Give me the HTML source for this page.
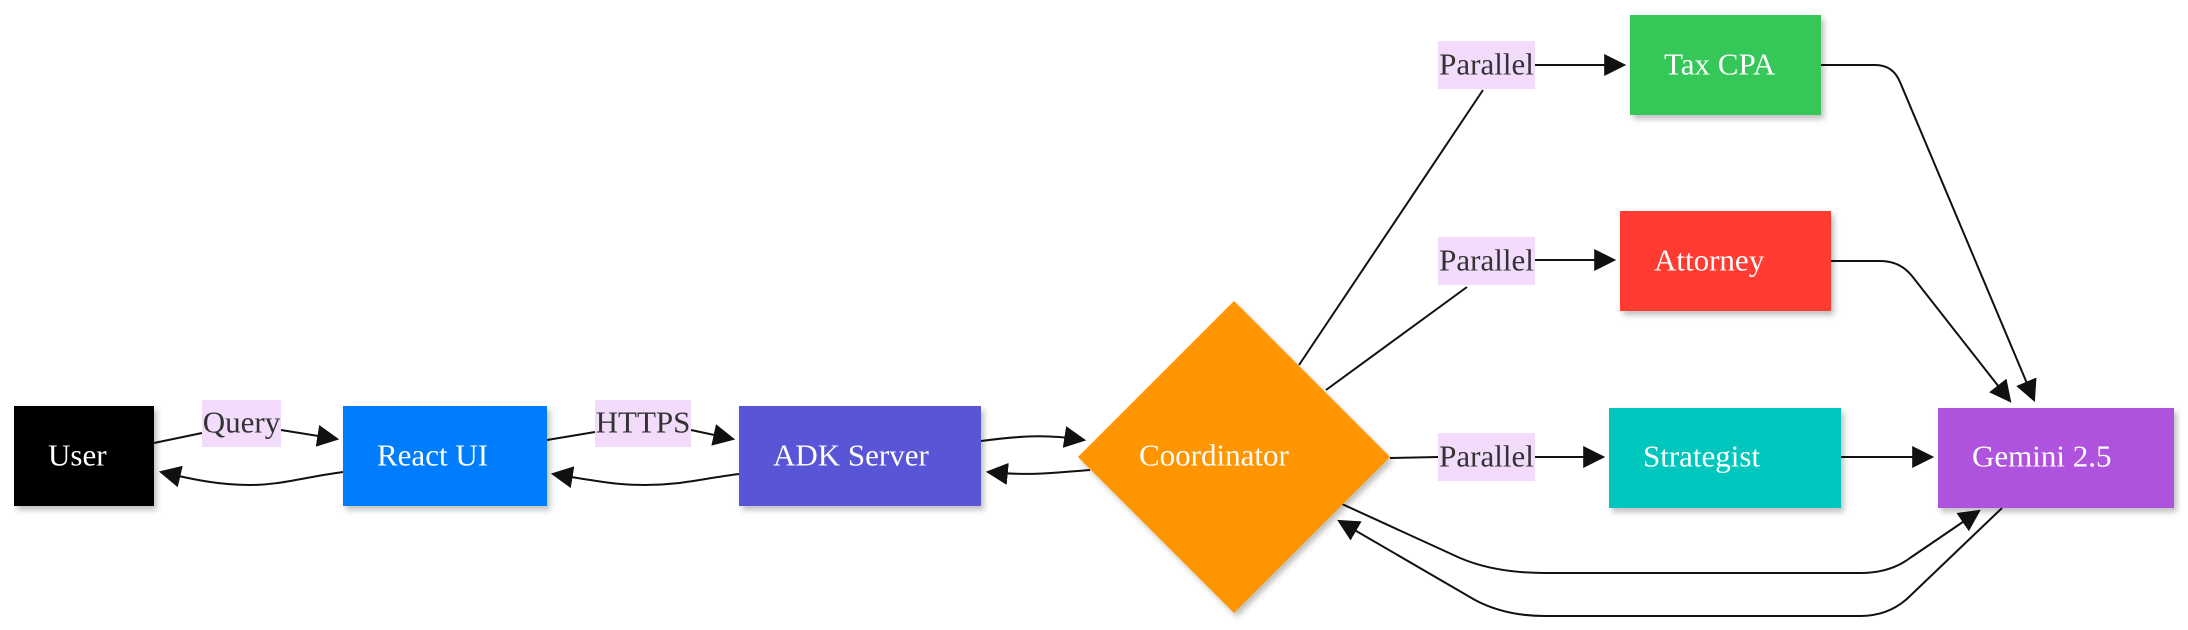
<!DOCTYPE html>
<html><head><meta charset="utf-8"><style>
html,body{margin:0;padding:0;background:#fff;width:2188px;height:630px;overflow:hidden}
svg text{font-family:"Liberation Serif",serif}
</style></head><body>
<svg width="2188" height="630" viewBox="0 0 2188 630" xmlns="http://www.w3.org/2000/svg">
<defs>
<marker id="a" viewBox="0 0 10 10" refX="9" refY="5" markerWidth="10" markerHeight="10" markerUnits="userSpaceOnUse" orient="auto">
<path d="M0,0 L10,5 L0,10 z" fill="#111"/></marker>
<marker id="b" viewBox="0 0 10 10" refX="9" refY="5" markerWidth="22" markerHeight="22" markerUnits="userSpaceOnUse" orient="auto">
<path d="M0,0 L10,5 L0,10 z" fill="#111"/></marker>
<filter id="s" x="-10%" y="-10%" width="130%" height="130%"><feDropShadow dx="3" dy="4" stdDeviation="3" flood-color="#000" flood-opacity="0.25"/></filter>
</defs>
<g fill="none" stroke="#111" stroke-width="2">
<path d="M154,443 L202,433"/><path d="M281,430 L337,439" marker-end="url(#b)"/>
<path d="M343,472 C300,478 280,485 250,485 C220,485 195,480 161,472" marker-end="url(#b)"/>
<path d="M547,440 L595,432"/><path d="M691,430 L733,439" marker-end="url(#b)"/>
<path d="M739,474 C700,479 680,485 645,485 C615,485 590,480 553,474" marker-end="url(#b)"/>
<path d="M981,441 C1020,436 1045,434 1084,440" marker-end="url(#b)"/>
<path d="M1090,470 C1050,473 1030,476 988,472" marker-end="url(#b)"/>
<path d="M1299,365 L1483,90"/><path d="M1326,390 L1467,287"/><path d="M1390,458 L1438,457"/>
<path d="M1535,65 L1624,65" marker-end="url(#b)"/>
<path d="M1535,260 L1614,260" marker-end="url(#b)"/>
<path d="M1535,457 L1603,457" marker-end="url(#b)"/>
<path d="M1821,65 L1875,65 Q1893,65 1900,82 L2034,400" marker-end="url(#b)"/>
<path d="M1831,261 L1880,261 Q1900,261 1912,276 L2010,401" marker-end="url(#b)"/>
<path d="M1841,457 L1932,457" marker-end="url(#b)"/>
<path d="M1342,504 L1460,558 Q1495,573 1545,573 L1860,573 Q1890,573 1910,558 L1979,511" marker-end="url(#b)"/>
<path d="M2002,508 L1910,596 Q1890,616 1860,616 L1545,616 Q1505,616 1475,600 L1339,521" marker-end="url(#b)"/>
</g>
<g filter="url(#s)">
<rect x="14" y="406" width="140" height="100" fill="#000"/>
<rect x="343" y="406" width="204" height="100" fill="#007bff"/>
<rect x="739" y="406" width="242" height="100" fill="#5856d6"/>
<polygon points="1234,301 1390,457 1234,613 1078,457" fill="#ff9500"/>
<rect x="1630" y="15" width="191" height="100" fill="#34c759"/>
<rect x="1620" y="211" width="211" height="100" fill="#ff3b30"/>
<rect x="1609" y="408" width="232" height="100" fill="#00c7be"/>
<rect x="1938" y="408" width="236" height="100" fill="#af52de"/>
</g>
<g fill="#f3dcfb">
<rect x="202" y="400" width="79" height="47"/>
<rect x="595" y="400" width="96" height="47"/>
<rect x="1438" y="41" width="97" height="48"/>
<rect x="1438" y="237" width="97" height="48"/>
<rect x="1438" y="433" width="97" height="48"/>
</g>
<g font-size="31" fill="#333" text-anchor="middle" dominant-baseline="central">
<text x="241.5" y="422">Query</text>
<text x="643" y="422">HTTPS</text>
<text x="1486.5" y="64">Parallel</text>
<text x="1486.5" y="260">Parallel</text>
<text x="1486.5" y="456">Parallel</text>
</g>
<g font-size="31" fill="#fff" dominant-baseline="central">
<text x="48" y="455">User</text>
<text x="377" y="455">React UI</text>
<text x="773" y="455">ADK Server</text>
<text x="1139" y="455">Coordinator</text>
<text x="1664" y="64">Tax CPA</text>
<text x="1654" y="260">Attorney</text>
<text x="1643" y="456">Strategist</text>
<text x="1972" y="456">Gemini 2.5</text>
</g>
</svg>
</body></html>
